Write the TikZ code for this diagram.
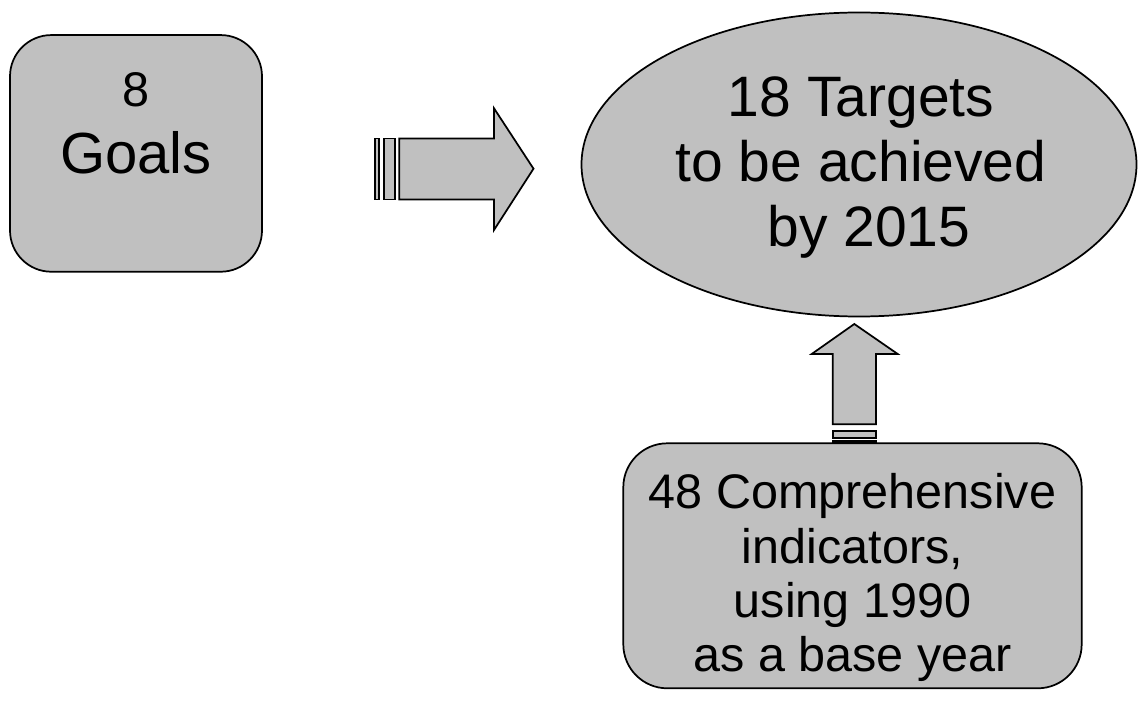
\documentclass[tikz,border=0pt]{standalone}
\usepackage{fontspec}
\setmainfont{Liberation Sans}
\usepackage{xcolor}
\usepackage{tikz}
\usetikzlibrary{shapes.geometric, positioning}
\definecolor{shapegray}{RGB}{192,192,192}

\begin{document}
\begin{tikzpicture}[x=0.75pt, y=-0.75pt,
    shapeline/.style={draw=black, fill=shapegray, line width=1.3pt, line join=miter},
    roundbox/.style={shapeline, rectangle, rounded corners=31pt, inner sep=0pt},
    ovalbox/.style={shapeline, ellipse, inner sep=0pt},
    bigtext/.style={font=\fontsize{42.75}{48.75}\selectfont, align=center, inner sep=0pt},
    midtext/.style={font=\fontsize{36.4}{40.7}\selectfont, align=center, inner sep=0pt}]
    \useasboundingbox (0,0) rectangle (1138,702);

    % 1. Khung "8 Goals"
    \node[roundbox, minimum width=189pt, minimum height=177.5pt] (goals) at (136,153.4) {};
    \node[midtext, anchor=base, font=\fontsize{36.5}{40}\selectfont] (goalsnum) at (136,106.7) {8};
    \node[bigtext, anchor=base, font=\fontsize{43.5}{49.7}\selectfont] (goalsword) at (136,173.5) {Goals};

    % 2. Mui ten sang phai (co vach)
    \draw[shapeline] (374.7,138.5) rectangle (379.3,199.5);
    \draw[shapeline] (384.3,138.5) rectangle (394.7,199.5);
    \draw[shapeline] (399.3,138.5) -- (494,138.5) -- (494,108.3) -- (533.5,168.7)
        -- (494,230) -- (494,199.5) -- (399.3,199.5) -- cycle;

    % 3. Hinh elip "18 Targets"
    \node[ovalbox, minimum width=416.25pt, minimum height=228pt] (targets) at (859,164.5) {};
    \node[bigtext, anchor=base] (targetstxt) at (861,246.7)
        {18 Targets\\to be achieved\\\hspace*{0.28em}by 2015};

    % 4. Mui ten len tren (co vach)
    \draw[shapeline] (832.7,424.3) -- (832.7,354) -- (811.7,354) -- (854.3,324)
        -- (897.7,354) -- (876,354) -- (876,424.3) -- cycle;
    \draw[shapeline] (832.7,430.7) rectangle (876,438.3);
    \draw[shapeline] (832.7,441.2) rectangle (876,443.3);

    % 5. Khung "48 Comprehensive indicators"
    \node[roundbox, rounded corners=33pt, minimum width=343.8pt, minimum height=183.75pt] (indicators) at (852.5,565.8) {};
    \node[midtext, anchor=base] (indicatorstxt) at (852.5,671.7)
        {48 Comprehensive\\indicators,\\using 1990\\as a base year};
\end{tikzpicture}
\end{document}
